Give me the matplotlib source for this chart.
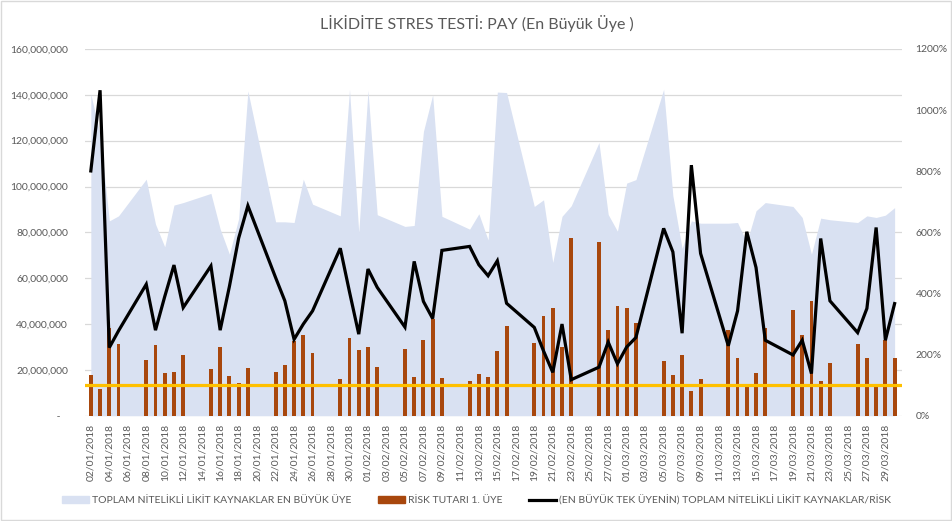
import matplotlib
matplotlib.use("Agg")
import matplotlib.pyplot as plt
import numpy as np
import pandas as pd
from matplotlib.ticker import FuncFormatter, MultipleLocator
from matplotlib.patches import Patch, Rectangle
from matplotlib.lines import Line2D

plt.rcParams['font.family'] = ['Lato', 'DejaVu Sans']

# business days 02/01/2018 - 30/03/2018
days = pd.bdate_range("2018-01-02", "2018-03-30")
start = pd.Timestamp("2018-01-02")

# toplam nitelikli likit kaynaklar (million TL)
liquid_m = [140.3, 123, 85, 87.2, 103.2, 83.6, 73.7, 91.9, 93, 97, 81.5, 70.5, 86, 141.7,
            84.6, 84.6, 84.3, 103.2, 92.3, 87.2, 142.4, 80,
            142, 87.7, 82.6, 83, 124, 140, 87, 81.4, 88.1, 76.7, 141.2, 141, 91.3, 94.2,
            66.9, 87, 91.6, 119.2, 87.8, 80.5,
            101.5, 103, 142.4, 96, 73, 85, 84, 84, 84.3, 75.6, 89.4, 93, 91.3, 86.5,
            70.5, 86.2, 85.5, 84.3, 87.2, 86.5, 87.5, 90.8]

# risk tutari 1. uye (million TL)
risk_m = [17.7, 11.6, 38.5, 31.3, 24.4, 30.8, 18.5, 19, 26.5, 20.2, 29.8, 17.2, 14.5, 20.8,
          18.9, 22.2, 32.7, 35.3, 27.2, 16, 33.9, 28.6,
          29.8, 21.4, 29.1, 17, 33, 42.2, 16.4, 15, 18.2, 17, 28.3, 39.2, 31.7, 43.6,
          46.8, 29.8, 77.5, 75.9, 37.4, 47.7,
          46.9, 40.3, 23.7, 17.7, 26.5, 10.6, 16, 37.4, 25.1, 13.1, 18.6, 38.5, 46.1, 35.2,
          50.1, 15, 23, 31.3, 25.4, 13.5, 33.1, 25.4]

# kaynaklar / risk (%)
ratio_pct = [801, 1065, 223, 278, 430, 280, 390, 493, 354, 490, 280, 423, 581, 687,
             452, 376, 250, 300, 343, 548, 405, 267,
             480, 420, 290, 505, 374, 318, 541, 554, 494, 458, 507, 368, 289, 212,
             142, 300, 118, 159, 241, 170,
             225, 256, 613, 536, 270, 820, 531, 229, 343, 602, 485, 247, 199, 247,
             138, 580, 376, 272, 351, 616, 247, 367]

threshold_pct = 100

x = np.array([(d - start).days for d in days])
liquid = np.array(liquid_m) * 1e6
risk = np.array(risk_m) * 1e6

fig = plt.figure(figsize=(9.53, 5.21), dpi=100)
ax = fig.add_axes([0.089, 0.202, 0.857, 0.704])
ax2 = ax.twinx()

gray = "#595959"
bar_col = "#A8470D"
ax.fill_between(x, 0, liquid, color="#D9E1F2", lw=0, zorder=1)
ax.bar(x, risk, width=0.42, color=bar_col, zorder=2)

ax2.plot(x, ratio_pct, color="black", lw=2.3, zorder=4, solid_joinstyle="miter")
ax2.axhline(threshold_pct, color="#FFC000", lw=2.3, zorder=3)

ax.set_ylim(0, 160e6)
ax2.set_ylim(0, 1200)
ax.set_xlim(-0.65, 87.75)

ax.yaxis.set_major_locator(MultipleLocator(20e6))
ax.yaxis.set_major_formatter(FuncFormatter(lambda v, p: " -   " if v == 0 else f"{v:,.0f}"))
ax2.yaxis.set_major_locator(MultipleLocator(200))
ax2.yaxis.set_major_formatter(FuncFormatter(lambda v, p: f"{v:.0f}%"))

ax.grid(axis="y", color="#D9D9D9", lw=0.9, zorder=0)
ax.set_axisbelow(True)

all_days = pd.date_range("2018-01-02", "2018-03-30")
tick_days = all_days[::2]
ax.set_xticks([(d - start).days for d in tick_days])
ax.set_xticklabels([d.strftime("%d/%m/%Y") for d in tick_days], rotation=90)

for a in (ax, ax2):
    for s in a.spines.values():
        s.set_visible(False)
    a.tick_params(length=0, colors=gray, labelsize=7.5)
ax.tick_params(axis="y", pad=12)
ax2.tick_params(axis="y", pad=10)
ax.tick_params(axis="x", pad=6)

fig.text(0.5, 0.955, "LİKİDİTE STRES TESTİ: PAY (En Büyük Üye )", ha="center", va="center",
         fontsize=11.5, color=gray)

handles = [Patch(color="#D9E1F2"), Patch(color=bar_col), Line2D([], [], color="black", lw=2.3)]
labels = ["TOPLAM NİTELİKLİ LİKİT KAYNAKLAR EN BÜYÜK ÜYE", "RİSK TUTARI 1. ÜYE",
          "(EN BÜYÜK TEK ÜYENİN) TOPLAM NİTELİKLİ LİKİT KAYNAKLAR/RİSK"]
leg = fig.legend(handles, labels, loc="center", bbox_to_anchor=(0.5, 0.04), ncol=3,
                 frameon=False, fontsize=7.5, handlelength=2.6, handleheight=0.6,
                 handletextpad=0.25, columnspacing=2.6)
for t in leg.get_texts():
    t.set_color(gray)

fig.patches.append(Rectangle((0.001, 0.002), 0.997, 0.996, transform=fig.transFigure,
                             fill=False, edgecolor="#D9D9D9", lw=1))

fig.savefig("out.png", dpi=100)
